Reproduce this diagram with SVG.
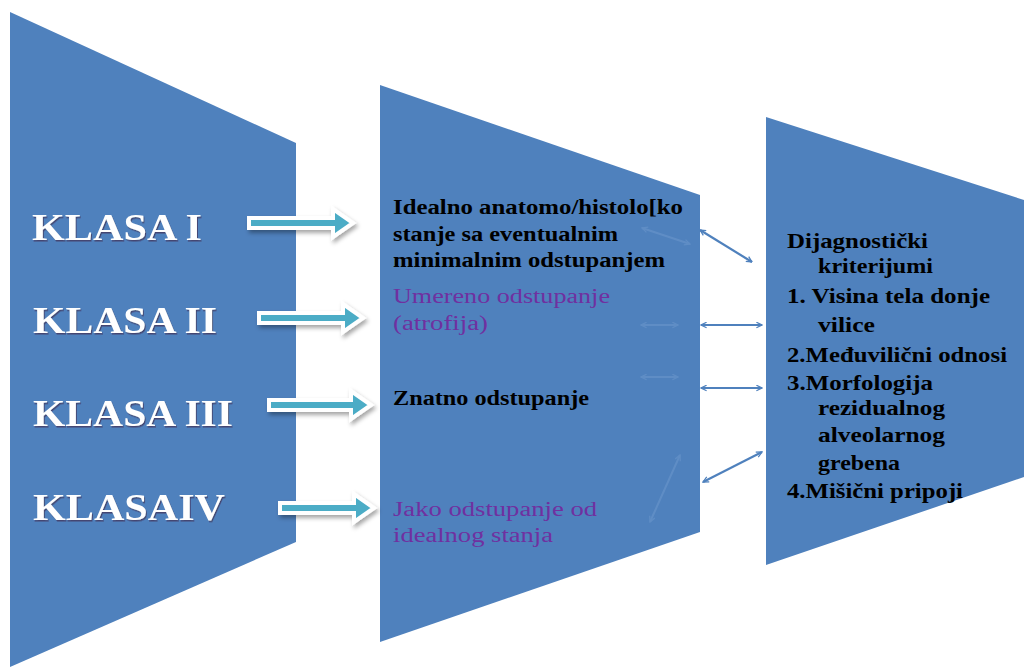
<svg xmlns="http://www.w3.org/2000/svg" width="1024" height="668" viewBox="0 0 1024 668">
<style>
.shape{fill:#4F81BD}
.klasa{font-family:"Liberation Serif",serif;font-weight:bold;font-size:38px;fill:#FFFFFF}
.mid{font-family:"Liberation Serif",serif;font-size:20px}
.b{font-weight:bold;fill:#000000}
.p{fill:#7030A0}
.right{font-family:"Liberation Serif",serif;font-weight:bold;font-size:21px;fill:#000000}
.blk{fill:#4BACC6;stroke:#FFFFFF;stroke-width:4;stroke-linejoin:miter}
.conn{fill:none;stroke:#4F81BD;stroke-width:2.2}
.faint{fill:none;stroke:#8FB2DE;stroke-width:2;opacity:0.25}
</style>
<defs>
<filter id="sh" x="-20%" y="-50%" width="140%" height="200%">
<feDropShadow dx="2" dy="3" stdDeviation="2" flood-color="#000000" flood-opacity="0.35"/>
</filter>
<filter id="tsh" x="-5%" y="-20%" width="110%" height="140%">
<feDropShadow dx="1" dy="1.5" stdDeviation="0.6" flood-color="#3a2040" flood-opacity="0.6"/>
</filter>
<marker id="ah" viewBox="0 0 10 10" refX="9" refY="5" markerWidth="7" markerHeight="7" orient="auto-start-reverse" markerUnits="userSpaceOnUse">
<path d="M1,1 L9,5 L1,9" fill="none" stroke="#4F81BD" stroke-width="1.8"/>
</marker>
<marker id="ahf" viewBox="0 0 10 10" refX="9" refY="5" markerWidth="7" markerHeight="7" orient="auto-start-reverse" markerUnits="userSpaceOnUse">
<path d="M1,1 L9,5 L1,9" fill="none" stroke="#8FB2DE" stroke-width="1.8"/>
</marker>
</defs>
<rect width="1024" height="668" fill="#FFFFFF"/>

<g id="klase">
<polygon class="shape" points="10,12 296,143 296,542 10,667"/>
<g filter="url(#tsh)">
<text class="klasa" x="32" y="240" textLength="170" lengthAdjust="spacingAndGlyphs">KLASA I</text>
<text class="klasa" x="33" y="333" textLength="184" lengthAdjust="spacingAndGlyphs">KLASA II</text>
<text class="klasa" x="33" y="426" textLength="200" lengthAdjust="spacingAndGlyphs">KLASA III</text>
<text class="klasa" x="33" y="520" textLength="192" lengthAdjust="spacingAndGlyphs">KLASAIV</text>
</g>
</g>

<g id="opis">
<polygon class="shape" points="380,85 700,195 700,532 380,642"/>
<text class="mid b" x="393" y="214" textLength="290" lengthAdjust="spacingAndGlyphs">Idealno anatomo/histolo[ko</text>
<text class="mid b" x="393" y="241" textLength="225" lengthAdjust="spacingAndGlyphs">stanje sa eventualnim</text>
<text class="mid b" x="393" y="267" textLength="272" lengthAdjust="spacingAndGlyphs">minimalnim odstupanjem</text>
<text class="mid p" x="393" y="303" textLength="217" lengthAdjust="spacingAndGlyphs">Umereno odstupanje</text>
<text class="mid p" x="393" y="330" textLength="95" lengthAdjust="spacingAndGlyphs">(atrofija)</text>
<text class="mid b" x="393" y="405" textLength="196" lengthAdjust="spacingAndGlyphs">Znatno odstupanje</text>
<text class="mid p" x="393" y="516" textLength="204" lengthAdjust="spacingAndGlyphs">Jako odstupanje od</text>
<text class="mid p" x="393" y="542" textLength="160" lengthAdjust="spacingAndGlyphs">idealnog stanja</text>
</g>

<g id="kriterijumi">
<polygon class="shape" points="766,117 1024,200 1024,477 766,565"/>
<text class="right" x="787" y="248" textLength="141" lengthAdjust="spacingAndGlyphs">Dijagnostički</text>
<text class="right" x="818" y="273" textLength="115" lengthAdjust="spacingAndGlyphs">kriterijumi</text>
<text class="right" x="787" y="303" textLength="203" lengthAdjust="spacingAndGlyphs">1. Visina tela donje</text>
<text class="right" x="818" y="332" textLength="57" lengthAdjust="spacingAndGlyphs">vilice</text>
<text class="right" x="787" y="362" textLength="220" lengthAdjust="spacingAndGlyphs">2.Međuvilični odnosi</text>
<text class="right" x="787" y="390" textLength="146" lengthAdjust="spacingAndGlyphs">3.Morfologija</text>
<text class="right" x="818" y="415" textLength="127" lengthAdjust="spacingAndGlyphs">rezidualnog</text>
<text class="right" x="818" y="442" textLength="127" lengthAdjust="spacingAndGlyphs">alveolarnog</text>
<text class="right" x="818" y="470" textLength="82" lengthAdjust="spacingAndGlyphs">grebena</text>
<text class="right" x="787" y="498" textLength="176" lengthAdjust="spacingAndGlyphs">4.Mišični pripoji</text>
</g>

<g id="connectors">
<g filter="url(#sh)">
<polygon class="blk" points="249,218 333,218 333,209 353,223 333,237 333,228 249,228"/>
<polygon class="blk" points="259,313 343,313 343,304 363,318 343,332 343,323 259,323"/>
<polygon class="blk" points="269,400 351,400 351,391 371,405 351,419 351,410 269,410"/>
<polygon class="blk" points="280,503 354,503 354,494 374,508 354,522 354,513 280,513"/>
</g>
<line class="faint" x1="642" y1="228" x2="690" y2="244" marker-start="url(#ahf)" marker-end="url(#ahf)"/>
<line class="faint" x1="641" y1="325" x2="678" y2="325" marker-start="url(#ahf)" marker-end="url(#ahf)"/>
<line class="faint" x1="641" y1="377" x2="678" y2="377" marker-start="url(#ahf)" marker-end="url(#ahf)"/>
<line class="faint" x1="650" y1="522" x2="680" y2="455" marker-start="url(#ahf)" marker-end="url(#ahf)"/>
<line class="conn" x1="700" y1="230" x2="752" y2="262" marker-start="url(#ah)" marker-end="url(#ah)"/>
<line class="conn" x1="701" y1="325" x2="762" y2="325" marker-start="url(#ah)" marker-end="url(#ah)"/>
<line class="conn" x1="701" y1="388" x2="762" y2="388" marker-start="url(#ah)" marker-end="url(#ah)"/>
<line class="conn" x1="703" y1="482" x2="762" y2="452" marker-start="url(#ah)" marker-end="url(#ah)"/>
</g>
</svg>
